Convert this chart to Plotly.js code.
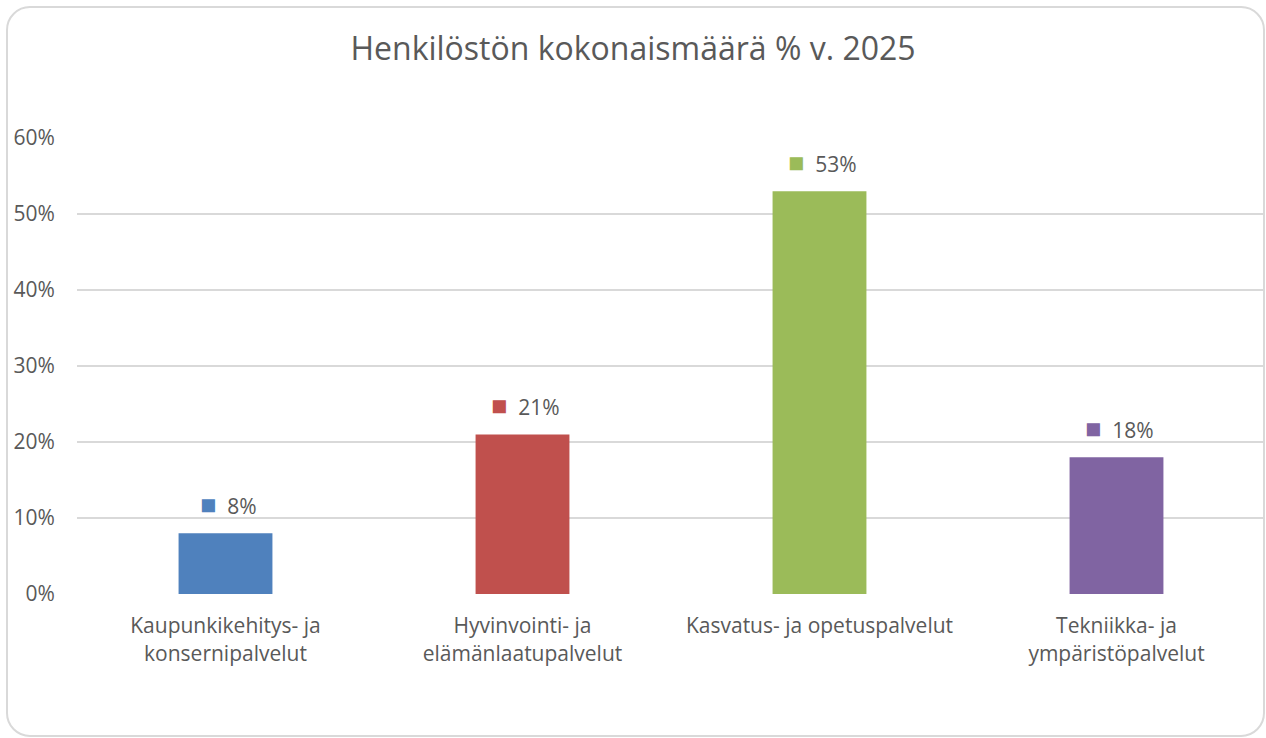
<!DOCTYPE html>
<html>
<head>
<meta charset="utf-8">
<script src="https://cdn.plot.ly/plotly-3.0.1.min.js"></script>
<style>
  html, body { margin: 0; padding: 0; background: #fff; }
  #wrap { position: relative; width: 1266px; height: 738px; overflow: hidden; }
  #chart { position: absolute; left: 0; top: 0; width: 1266px; height: 738px; }
  #frame { position: absolute; left: 6px; top: 6px; width: 1255px; height: 727px;
           border: 2px solid #D9D9D9; border-radius: 24px; pointer-events: none; }
</style>
</head>
<body>
<div id="wrap"><div id="chart"></div><div id="frame"></div></div>
<script>
const categories = [
  "Kaupunkikehitys- ja<br>konsernipalvelut",
  "Hyvinvointi- ja<br>elämänlaatupalvelut",
  "Kasvatus- ja opetuspalvelut",
  "Tekniikka- ja<br>ympäristöpalvelut"
];
const values = [0.08, 0.21, 0.53, 0.18];
const valueLabels = ["8%", "21%", "53%", "18%"];
const colors = ["#4F81BD", "#C0504D", "#9BBB59", "#8064A2"];
const yTickVals = [0, 0.1, 0.2, 0.3, 0.4, 0.5, 0.6];
const yTickText = ["0%", "10%", "20%", "30%", "40%", "50%", "60%"];

const FONT = "'Open Sans', 'Noto Sans', sans-serif";
const TXT = "#595959";

const trace = {
  type: "bar",
  x: categories,
  y: values,
  marker: { color: colors },
  hoverinfo: "none",
  cliponaxis: false
};

const annotations = categories.map((c, i) => ({
  x: c, y: values[i], xref: "x", yref: "y",
  yanchor: "bottom", xanchor: "center",
  yshift: 9, xshift: 3,
  showarrow: false,
  text: "<span style='color:" + colors[i] + ";font-size:27px'>■</span>  " + valueLabels[i],
  font: { family: FONT, size: 21, color: TXT }
}));

const layout = {
  width: 1266, height: 738, autosize: false,
  margin: { l: 77, r: 1, t: 138, b: 144 },
  paper_bgcolor: "rgba(0,0,0,0)",
  plot_bgcolor: "rgba(0,0,0,0)",
  showlegend: false,
  bargap: 0.684,
  title: {
    text: "Henkilöstön kokonaismäärä % v. 2025",
    font: { family: FONT, size: 32, color: TXT },
    x: 0.5, xref: "container", xanchor: "center",
    y: 1, yref: "container", yanchor: "top", pad: { t: 38 }
  },
  xaxis: {
    type: "category",
    showgrid: false, zeroline: false, showline: false,
    ticks: "outside", ticklen: 13, tickcolor: "rgba(0,0,0,0)",
    tickfont: { family: FONT, size: 21, color: TXT },
    fixedrange: true
  },
  yaxis: {
    range: [0, 0.6],
    tickvals: yTickVals, ticktext: yTickText,
    showgrid: true, gridcolor: "#D9D9D9", gridwidth: 2,
    zeroline: false, showline: false,
    ticks: "outside", ticklen: 17, tickcolor: "rgba(0,0,0,0)",
    tickfont: { family: FONT, size: 21, color: TXT },
    fixedrange: true
  },
  annotations: annotations
};

Plotly.newPlot("chart", [trace], layout, { displayModeBar: false, staticPlot: true });
</script>
</body>
</html>
